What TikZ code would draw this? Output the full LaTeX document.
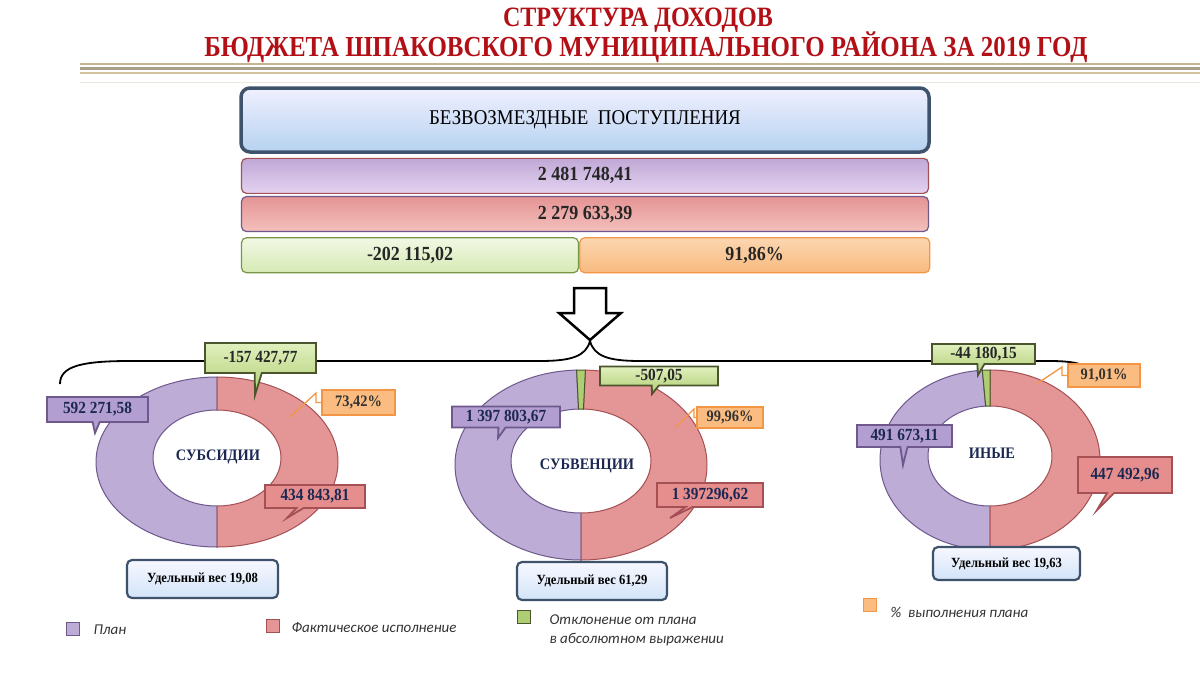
\documentclass[tikz,border=0pt]{standalone}
\usepackage{fontspec}
\setmainfont{Liberation Serif}
\newfontfamily\titlefont[FakeStretch=0.86]{Liberation Serif}
\newfontfamily\narrowserif[FakeStretch=0.9]{Liberation Serif}
\newfontfamily\keyfont{Carlito}
\usepackage{tikz}
\usetikzlibrary{positioning}
\usetikzlibrary{calc}
\usetikzlibrary{shapes,shapes.callouts}
\definecolor{titlered}{RGB}{178,16,22}
\definecolor{navy}{RGB}{28,40,82}
\definecolor{slate}{RGB}{62,82,108}
\definecolor{planc}{RGB}{188,172,214}
\definecolor{plandark}{RGB}{110,88,140}
\definecolor{factc}{RGB}{228,150,150}
\definecolor{factdark}{RGB}{165,80,85}
\definecolor{devc}{RGB}{175,205,115}
\definecolor{devdark}{RGB}{75,85,45}
\definecolor{pctc}{RGB}{250,188,128}
\definecolor{pctdark}{RGB}{242,150,70}
\tikzset{head box/.style={draw=slate,line width=3.5pt,rounded corners=9pt,top color=blue!6!white,bottom color={rgb,255:red,182;green,210;blue,240},minimum width=688pt,minimum height=64pt,inner sep=0pt},
  bar box/.style={rounded corners=5pt,line width=1.2pt,minimum height=35pt,inner sep=0pt,font=\narrowserif\bfseries\fontsize{20}{22}\selectfont,text=black!85},
  weight box/.style={draw=slate,line width=2.2pt,rounded corners=5pt,top color=blue!3!white,bottom color={rgb,255:red,210;green,228;blue,248},inner sep=0pt,font=\narrowserif\bfseries\fontsize{14}{16}\selectfont},
  call/.style={rectangle callout,line width=1.8pt,inner sep=0pt,font=\narrowserif\bfseries\fontsize{17}{19}\selectfont,text=navy},
  plan call/.style={call,draw=plandark,fill={rgb,255:red,178;green,158;blue,208}},
  fact call/.style={call,draw=factdark,fill={rgb,255:red,230;green,142;blue,142}},
  dev call/.style={call,draw=devdark,top color={rgb,255:red,225;green,240;blue,190},bottom color=devc,text=black!85},
  pct box/.style={draw=pctdark,fill=pctc,line width=1.3pt,inner sep=0pt,font=\narrowserif\bfseries\fontsize{16}{18}\selectfont,text=black!80},
  ring name/.style={font=\narrowserif\bfseries\fontsize{16}{18}\selectfont,text=navy},
  leader/.style={draw=pctdark,line width=1.3pt},
  key/.style={minimum size=13pt,inner sep=0pt,line width=1pt},
  key text/.style={anchor=west,font=\keyfont\itshape\fontsize{15}{17}\selectfont,text=black!80}}
\newcommand{\ringpart}[9]{%
  \path[#9] ($(#1,#2)+(#7:#3pt and #4pt)$)
    arc[start angle=#7,end angle=#8,x radius=#3pt,y radius=#4pt]
    -- ($(#1,#2-4)+(#8:#5pt and #6pt)$)
    arc[start angle=#8,end angle=#7,x radius=#5pt,y radius=#6pt] -- cycle;}

\begin{document}
\begin{tikzpicture}[x=1pt, y=-1pt, semithick]
	\useasboundingbox[fill=white] (0,0) rectangle (1200,675);

	% title and stripes
	\node[text=titlered,font=\titlefont\bfseries\fontsize{28}{30}\selectfont] (title1) at (638,20) {СТРУКТУРА ДОХОДОВ};
	\node[text=titlered,font=\titlefont\bfseries\fontsize{29}{31}\selectfont] (title2) at (646,47) {БЮДЖЕТА ШПАКОВСКОГО МУНИЦИПАЛЬНОГО РАЙОНА ЗА 2019 ГОД};
	\draw[line width=2.5pt,color={rgb,255:red,196;green,182;blue,146}] (80,64) -- (1200,64);
	\draw[line width=2.5pt,color={rgb,255:red,168;green,160;blue,140}] (80,68.5) -- (1200,68.5);
	\draw[line width=2pt,color={rgb,255:red,210;green,196;blue,160}] (80,73) -- (1200,73);
	\draw[line width=1pt,color={rgb,255:red,236;green,232;blue,224}] (80,82) -- (1200,82);

	% totals
	\node[head box,font=\narrowserif\fontsize{21}{24}\selectfont] (head) at (585,120) {БЕЗВОЗМЕЗДНЫЕ~~ПОСТУПЛЕНИЯ};
	\node[bar box,minimum width=687pt,draw=factdark,top color={rgb,255:red,192;green,168;blue,214},bottom color={rgb,255:red,228;green,210;blue,240}] (plan) [below=4pt of head] {2 481 748,41};
	\node[bar box,minimum width=687pt,draw=plandark,top color={rgb,255:red,228;green,148;blue,148},bottom color={rgb,255:red,244;green,192;blue,188}] (fact) [below=2pt of plan] {2 279 633,39};
	\node[bar box,minimum width=337pt,draw={rgb,255:red,120;green,150;blue,70},top color={rgb,255:red,242;green,248;blue,228},bottom color={rgb,255:red,214;green,234;blue,180}] (dev) [below=5pt of fact.south west, anchor=north west] {-202 115,02};
	\node[bar box,minimum width=350pt,draw=pctdark,top color={rgb,255:red,252;green,214;blue,176},bottom color={rgb,255:red,248;green,186;blue,126}] (pct) [right=0pt of dev] {91,86\%};

	% arrow and brace
	\draw[line width=2.5pt,fill=white,line join=miter] (574,288) -- (606,288) -- (606,313) -- (621,313) -- (590,340) -- (559,313) -- (574,313) -- cycle;
	\draw[line width=1.8pt] (60,384) .. controls (60,366) and (82,361) .. (130,361) -- (540,361)
		.. controls (572,361) and (586,356) .. (590,341) .. controls (594,356) and (608,361) .. (640,361)
		-- (1050,361) .. controls (1076,361) and (1088,365) .. (1092,372);

	% субсидии
	\ringpart{217}{462}{121}{85}{64}{48}{90}{270}{fill=planc,draw=plandark,line width=1pt}
	\ringpart{217}{462}{121}{85}{64}{48}{-90}{90}{fill=factc,draw=factdark,line width=1pt}
	\node[ring name] (sn) at (218,457) {СУБСИДИИ};
	\node[dev call,minimum width=111pt,minimum height=30pt,callout absolute pointer={(255,395)}] (sd) at (260.5,358) {-157 427,77};
	\node[plan call,minimum width=101pt,minimum height=25pt,callout absolute pointer={(95,433)}] (sp) at (97.5,409.5) {592 271,58};
	\node[fact call,minimum width=100pt,minimum height=23pt,callout absolute pointer={(287,518)}] (sa) at (315,496.5) {434 843,81};
	\node[pct box,minimum width=73pt,minimum height=25pt] (sq) at (358.5,402.5) {73,42\%};
	\coordinate (sqp) at (290,417);
	\coordinate (sqk) at (316,393);
	\draw[leader] (sqp) -- (sqk) |- (sq.west);
	\node[weight box,minimum width=151pt,minimum height=38pt] (sw) at (202.5,579) {Удельный вес 19,08};

	% субвенции
	\ringpart{581}{465}{126}{95}{70}{52}{92}{270}{fill=planc,draw=plandark,line width=1pt}
	\ringpart{581}{465}{126}{95}{70}{52}{-90}{88}{fill=factc,draw=factdark,line width=1pt}
	\ringpart{581}{465}{126}{95}{70}{52}{88}{92}{fill=devc,draw=devdark,line width=1pt}
	\node[ring name] (vn) at (587,466) {СУБВЕНЦИИ};
	\node[dev call,minimum width=118pt,minimum height=19pt,callout absolute pointer={(652,394)}] (vd) at (659,376) {-507,05};
	\node[plan call,minimum width=108pt,minimum height=21pt,callout absolute pointer={(498,438)}] (vp) at (506,417) {1 397 803,67};
	\node[fact call,minimum width=106pt,minimum height=24pt,callout absolute pointer={(670,518)}] (va) at (710,495) {1 397296,62};
	\node[pct box,minimum width=66pt,minimum height=21pt] (vq) at (730,417.5) {99,96\%};
	\coordinate (vqp) at (675,428);
	\coordinate (vqk) at (694,409);
	\draw[leader] (vqp) -- (vqk) |- (vq.west);
	\node[weight box,minimum width=150pt,minimum height=38pt] (vw) at (592,581) {Удельный вес 61,29};

	% иные
	\ringpart{990}{460}{110}{90}{62}{50}{94}{270}{fill=planc,draw=plandark,line width=1pt}
	\ringpart{990}{460}{110}{90}{62}{50}{-90}{90}{fill=factc,draw=factdark,line width=1pt}
	\ringpart{990}{460}{110}{90}{62}{50}{90}{94}{fill=devc,draw=devdark,line width=1pt}
	\node[ring name] (in) at (992,453) {ИНЫЕ};
	\node[dev call,minimum width=103pt,minimum height=20pt,callout absolute pointer={(978,375)}] (id) at (983.5,354) {-44 180,15};
	\node[plan call,minimum width=95pt,minimum height=22pt,callout absolute pointer={(903,465)}] (ip) at (904.5,436) {491 673,11};
	\node[fact call,minimum width=94pt,minimum height=36pt,callout absolute pointer={(1097,510)}] (ia) at (1125,475) {447 492,96};
	\node[pct box,minimum width=72pt,minimum height=23pt] (iq) at (1104,375.5) {91,01\%};
	\coordinate (iqp) at (1038,383);
	\coordinate (iqk) at (1062,367);
	\draw[leader] (iqp) -- (iqk) |- (iq.west);
	\node[weight box,minimum width=147pt,minimum height=33pt] (iw) at (1006.5,563.5) {Удельный вес 19,63};

	% legend
	\node[key,fill=planc,draw=plandark] (k1) at (73,629) {};
	\node[key text] (t1) at (90,630) {План};
	\node[key,fill=factc,draw=factdark] (k2) at (273,626) {};
	\node[key text] (t2) at (288,628) {Фактическое исполнение};
	\node[key,fill=devc,draw=devdark] (k3) at (524,617) {};
	\node[key text] (t3) at (546,620) {Отклонение от плана};
	\node[key text] (t4) at (546,640) {в абсолютном выражении};
	\node[key,fill=pctc,draw=pctdark] (k4) at (870,605) {};
	\node[key text] (t5) at (887,612) {\%~~выполнения плана};
\end{tikzpicture}
\end{document}
